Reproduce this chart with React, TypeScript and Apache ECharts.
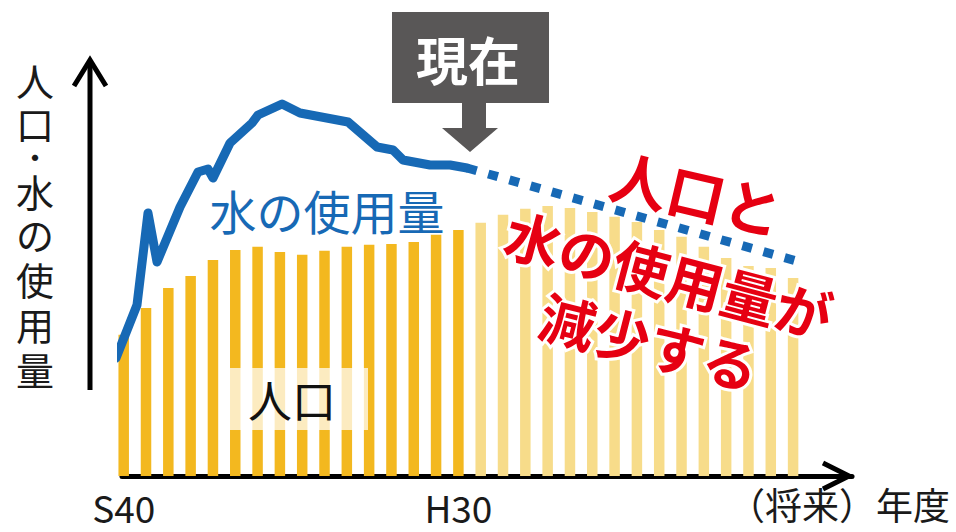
import React, { useEffect, useRef } from "react";
import * as echarts from "echarts";

// Population bars (index 0 = S40, index 15 = H30), value units
const popPast = [35.3, 42, 47, 50, 54, 56.5, 57.3, 56, 55.3, 56.3, 57.3, 57.8, 58, 58.5, 60.3, 61.5];
const popFuture = [63.3, 65.3, 66.8, 67.5, 67, 66, 64.8, 63.5, 61.5, 59.8, 57.3, 54.5, 52.5, 52.0, 49.5];

// Water usage line (x in bar-index units)
const waterX = [-0.345, 0.596, 1.089, 1.493, 2.524, 3.33, 3.779, 4.003, 4.765, 5.751, 6.02, 7.096, 7.902, 10.054, 11.354, 12.071, 12.519, 13.729, 14.626, 15.388];
const waterY = [29.5, 42.75, 65.75, 53.5, 67.25, 76, 76.75, 74.5, 83.25, 88.25, 90.25, 93, 90.75, 88.5, 82.25, 81.5, 79, 77.75, 77.75, 77];
const forecastX = [15.388, 30.31];
const forecastY = [77, 53.5];

// Tick labels
const tickPos = [0, 15];
const tickLabels = ["S40", "H30"];
const axisName = "（将来）年度";

// Vertical y-axis title characters (rich style key per char)
const yTitleChars = ["人", "口", "・", "水", "の", "使", "用", "量"];
const yTitleStyle = ["a", "b", "d", "b", "c", "c", "c", "a"];

const FONT = '"Noto Sans CJK JP", "Noto Sans", sans-serif';
const BLUE = "#1769b5";
const RED = "#e60012";

export default function App() {
  const ref = useRef<HTMLDivElement>(null);
  useEffect(() => {
    const chart = echarts.init(ref.current!, null, { renderer: "svg" });
    const barData = [
      ...popPast.map((v, i) => ({ value: [i, v], itemStyle: { color: "#f3b81f" } })),
      ...popFuture.map((v, i) => ({ value: [popPast.length + i, v], itemStyle: { color: "#f7dc8a" } })),
    ];
    const yTitleText = yTitleChars.map((c, i) => `{${yTitleStyle[i]}|${c}}`).join("\n");
    const base = { fontFamily: FONT, fontSize: 38, fill: "#1a1a1a", color: "#1a1a1a" };
    const option: any = {
      animation: false,
      grid: { left: 122, right: 104, top: 76, bottom: 56, containLabel: false, outerBoundsMode: "none" },
      xAxis: {
        type: "value",
        min: -0.076,
        max: 32.64,
        axisLine: { show: true, lineStyle: { color: "#000", width: 5 } },
        axisTick: { show: false },
        splitLine: { show: false },
        axisLabel: {
          customValues: tickPos,
          formatter: (v: number) => {
            const i = tickPos.findIndex((p) => Math.abs(p - v) < 1e-6);
            return i >= 0 ? tickLabels[i] : "";
          },
          fontSize: 37,
          color: "#1a1a1a",
          fontFamily: FONT,
          margin: 12,
          hideOverlap: false,
        },
        name: axisName,
        nameLocation: "end",
        nameGap: 98,
        nameTextStyle: {
          fontSize: 37,
          color: "#1a1a1a",
          fontFamily: FONT,
          align: "right",
          verticalAlign: "top",
          padding: [10, 0, 0, 0],
        },
      },
      yAxis: { type: "value", min: 0, max: 100, show: false },
      series: [
        {
          type: "bar",
          data: barData,
          barWidth: 10.5,
          clip: true,
          z: 2,
        },
        {
          type: "line",
          data: waterX.map((x, i) => [x, waterY[i]]),
          symbol: "none",
          clip: false,
          lineStyle: { color: BLUE, width: 9, cap: "round", join: "round" },
          z: 5,
        },
        {
          type: "line",
          data: forecastX.map((x, i) => [x, forecastY[i]]),
          symbol: "none",
          clip: false,
          lineStyle: { color: BLUE, width: 9, type: [10, 12], cap: "butt" },
          z: 5,
        },
      ],
      graphic: [
        // y arrow
        { type: "line", shape: { x1: 90, y1: 390, x2: 90, y2: 62 }, style: { stroke: "#000", lineWidth: 5 }, z: 10 },
        { type: "polyline", shape: { points: [[74, 86], [90, 60], [106, 86]] }, style: { stroke: "#000", lineWidth: 5, fill: null }, z: 10 },
        // x arrow head
        { type: "polyline", shape: { points: [[823, 463], [849, 476], [823, 489]] }, style: { stroke: "#000", lineWidth: 5, fill: null }, z: 10 },
        // y title
        {
          type: "text",
          x: 35,
          y: 57,
          style: {
            text: yTitleText,
            font: `38px ${FONT}`,
            fill: "#1a1a1a",
            align: "center",
            verticalAlign: "top",
            rich: {
              a: { ...base, lineHeight: 44 },
              b: { ...base, lineHeight: 42 },
              c: { ...base, lineHeight: 45 },
              d: { ...base, fontSize: 30, lineHeight: 26 },
            },
          },
          z: 10,
        },
        // 人口 label box
        { type: "rect", shape: { x: 230, y: 368, width: 138, height: 62 }, style: { fill: "rgba(255,255,255,0.72)" }, z: 20 },
        { type: "text", x: 292, y: 399, style: { text: "人口", font: `44px ${FONT}`, fill: "#111", align: "center", verticalAlign: "middle" }, z: 21 },
        // 水の使用量 label
        { type: "text", x: 327, y: 209, style: { text: "水の使用量", font: `47px ${FONT}`, fill: BLUE, align: "center", verticalAlign: "middle" }, z: 21 },
        // 現在 callout
        { type: "rect", shape: { x: 392, y: 12, width: 157, height: 91 }, style: { fill: "#595757" }, z: 20 },
        { type: "polygon", shape: { points: [[462, 102], [486, 102], [486, 128], [498, 128], [470, 152], [442, 128], [462, 128]] }, style: { fill: "#595757" }, z: 20 },
        { type: "text", x: 468, y: 58, style: { text: "現在", font: `bold 52px ${FONT}`, fill: "#fff", align: "center", verticalAlign: "middle" }, z: 21 },
        // red message
        { type: "text", x: 697, y: 192, rotation: -0.23, style: { text: "人口と", font: `bold 58px ${FONT}`, fill: RED, align: "center", verticalAlign: "middle", stroke: "#fff", lineWidth: 6 }, z: 30 },
        { type: "text", x: 669, y: 273, rotation: -0.26, style: { text: "水の使用量が", font: `bold 56px ${FONT}`, fill: RED, align: "center", verticalAlign: "middle", stroke: "#fff", lineWidth: 6 }, z: 30 },
        { type: "text", x: 650, y: 340, rotation: -0.25, style: { text: "減少する", font: `bold 56px ${FONT}`, fill: RED, align: "center", verticalAlign: "middle", stroke: "#fff", lineWidth: 6 }, z: 30 },
      ],
    };
    chart.setOption(option);
    return () => chart.dispose();
  }, []);
  return <div ref={ref} style={{ position: "absolute", left: 0, top: 0, width: 956, height: 532 }} />;
}
